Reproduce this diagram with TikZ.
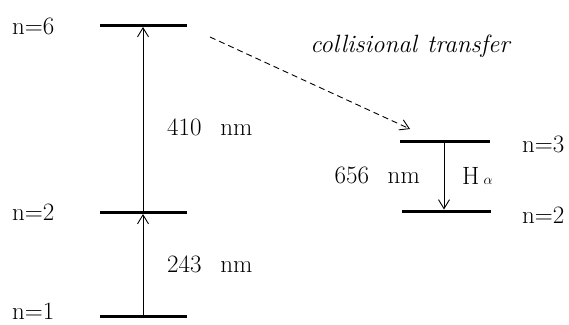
\documentclass[tikz,border=0pt]{standalone}
\usepackage{fontspec}
\usetikzlibrary{arrows.meta}
\begin{document}
\begin{tikzpicture}[x=1pt,y=-1pt,
  level/.style={line width=3pt},
  trans/.style={line width=0.9pt,-{Straight Barb[length=9pt,width=11pt,line width=0.9pt]}},
  lbl/.style={font=\fontsize{25}{27}\selectfont,inner sep=0pt,anchor=base west},
  ]
\useasboundingbox (0,0) rectangle (569,324);
% levels
\coordinate (a1l) at (100,316); \coordinate (a1r) at (187,316);
\coordinate (a2l) at (100,212); \coordinate (a2r) at (187,212);
\coordinate (a6l) at (100,25);  \coordinate (a6r) at (187,25);
\coordinate (b3l) at (400,141); \coordinate (b3r) at (490,141);
\coordinate (b2l) at (402,211); \coordinate (b2r) at (491,211);
\draw[level] (a1l) -- (a1r);
\draw[level] (a2l) -- (a2r);
\draw[level] (a6l) -- (a6r);
\draw[level] (b3l) -- (b3r);
\draw[level] (b2l) -- (b2r);
% labels
\node[lbl] (n1) at (12,319) {n=1};
\node[lbl] (n2) at (12,220) {n=2};
\node[lbl] (n6) at (12,34) {n=6};
\node[lbl] (m3) at (522,152) {n=3};
\node[lbl] (m2) at (522,223) {n=2};
% arrows
\coordinate (s1) at (143,314.5); \coordinate (e1) at (143,214);
\coordinate (s2) at (143,210.5); \coordinate (e2) at (143,27);
\coordinate (s3) at (444,143);   \coordinate (e3) at (444,209.5);
\draw[trans] (s1) -- (e1);
\draw[trans] (s2) -- (e2);
\draw[trans] (s3) -- (e3);
\node[lbl] (w243) at (167,272) {243\hspace{0.75em}nm};
\node[lbl] (w410) at (167,135) {410\hspace{0.75em}nm};
\node[lbl,anchor=base east] (w656) at (420,183) {656\hspace{0.75em}nm};
\node[lbl] (ha) at (462,184) {H\,{\fontsize{14}{16}\selectfont$\alpha$}};
% collisional transfer
\coordinate (c1) at (210,37); \coordinate (c2) at (410,129);
\draw[line width=0.9pt,dash pattern=on 6pt off 4pt,-{Straight Barb[length=9pt,width=11pt,line width=0.9pt]}] (c1) -- (c2);
\node[lbl,anchor=base,font=\fontsize{25}{27}\selectfont\itshape\addfontfeature{LetterSpace=5}] (ct) at (410,52) {collisional\hspace{0.4em}transfer};
\end{tikzpicture}
\end{document}
